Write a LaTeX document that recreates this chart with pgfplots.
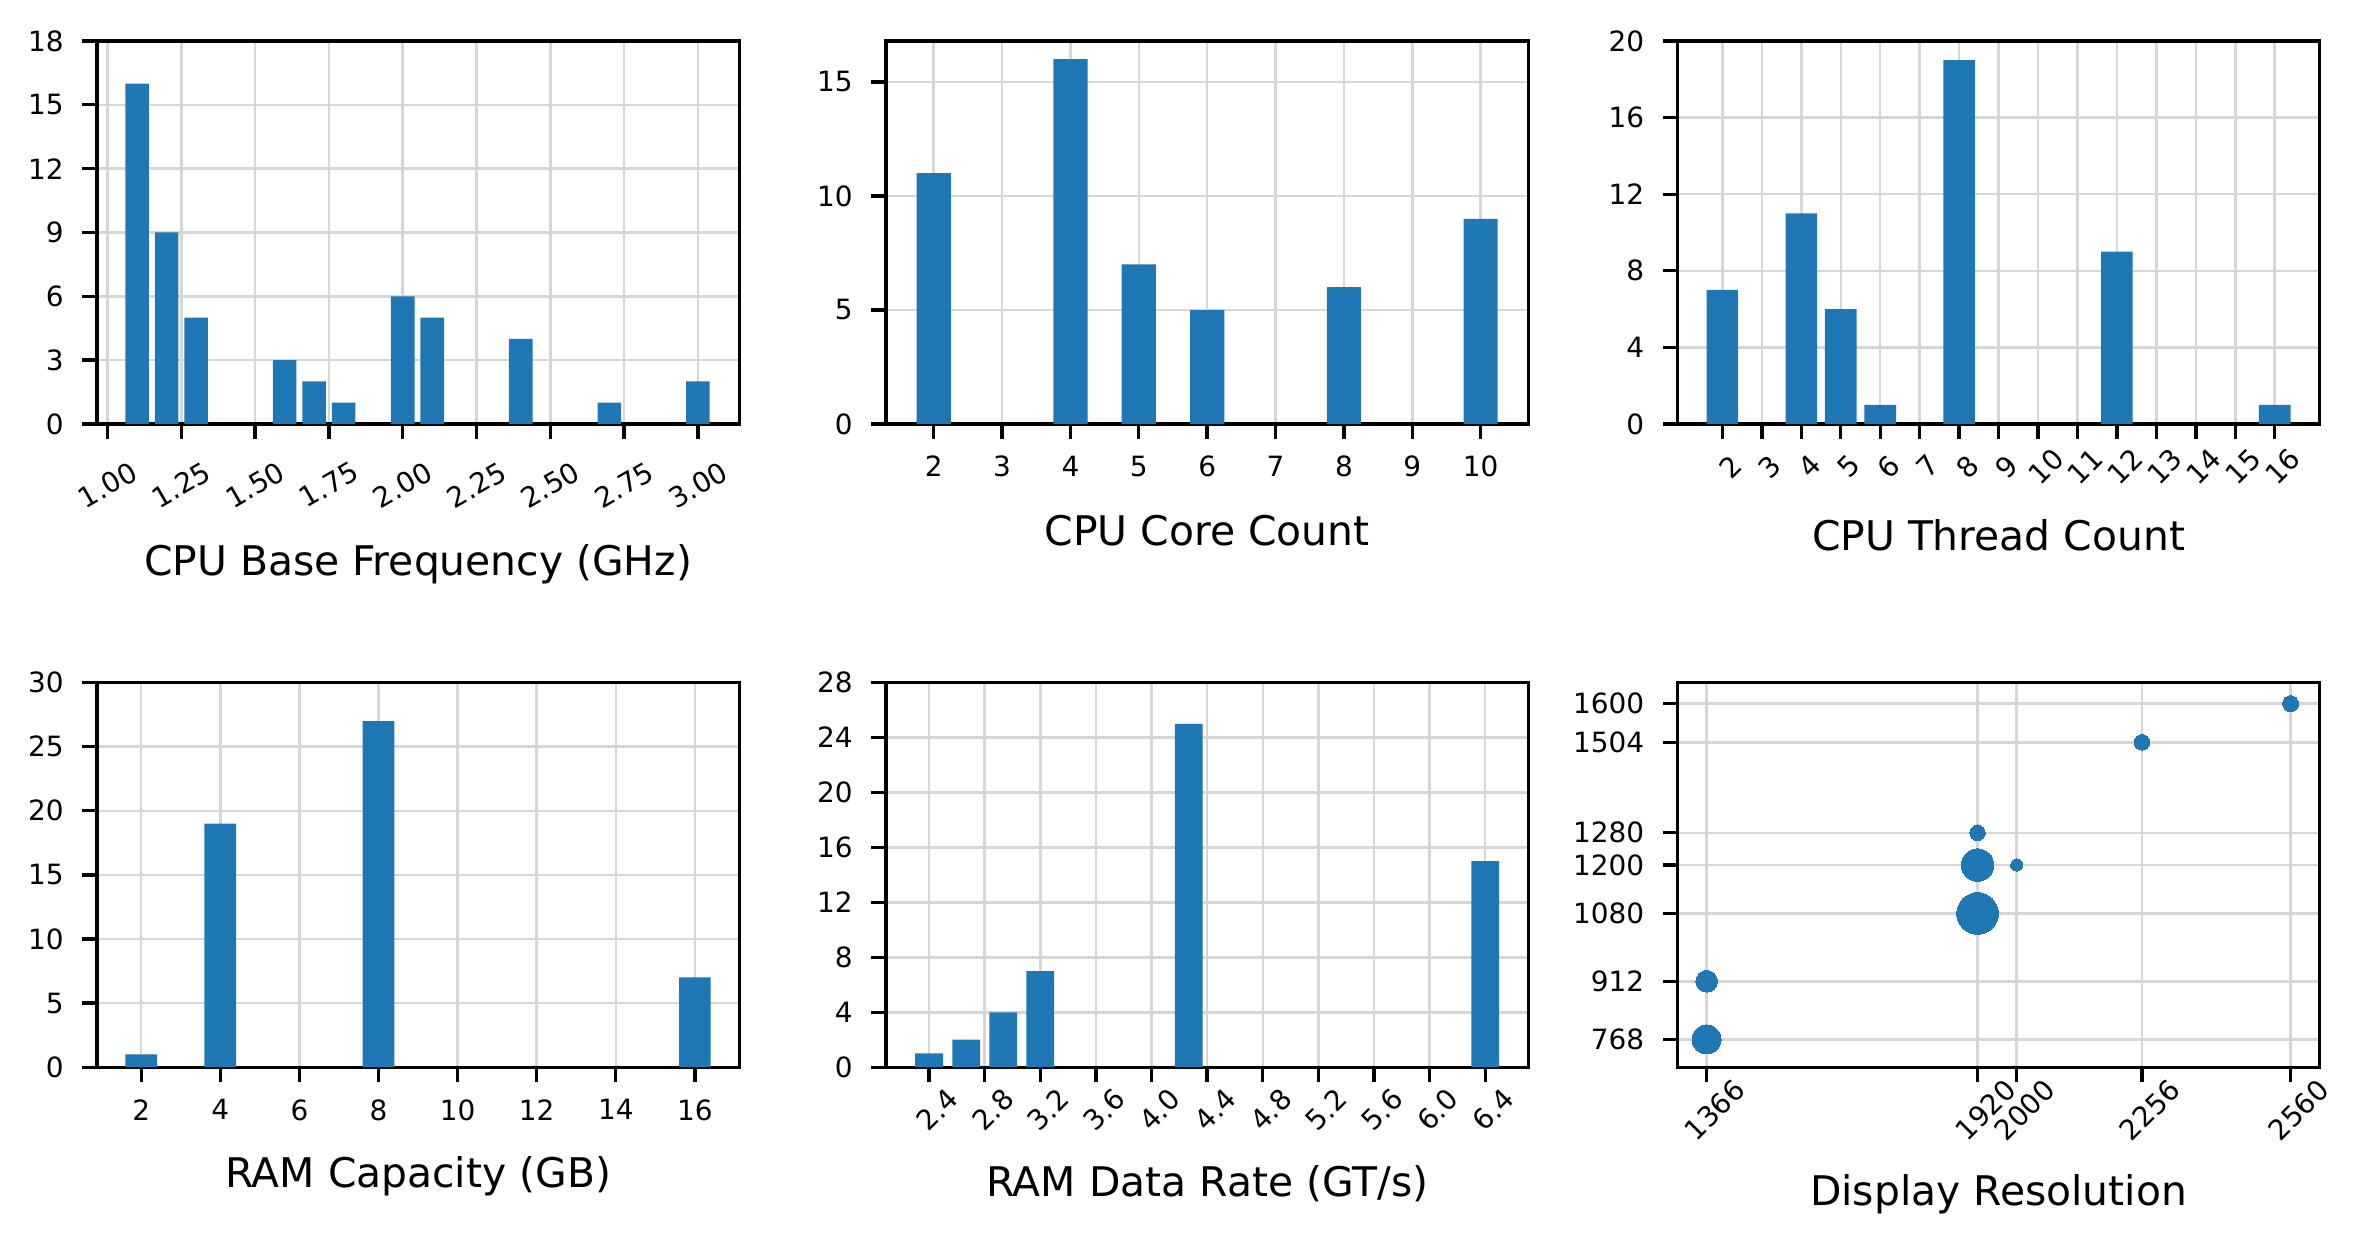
\documentclass[border=0pt]{standalone}
\usepackage{fontspec}
\setmainfont{DejaVu Sans}
\usepackage{graphicx}
\usepackage{pgfplots}
\pgfplotsset{compat=1.18}
\definecolor{mplblue}{RGB}{31,119,180}
\definecolor{gridgray}{RGB}{214,214,214}
\pgfplotsset{
  panel/.style={
    scale only axis,
    enlargelimits=false,
    axis line style={line width=0.8pt, black},
    grid=major,
    major grid style={line width=0.6pt, gridgray},
    tick align=outside,
    major tick length=3.5pt,
    tick style={line width=0.8pt, black},
    xtick pos=lower, ytick pos=left,
    minor tick num=0,
    ticklabel style={font=\fontsize{6.7}{8}\selectfont},
    xticklabel style={anchor=north, inner sep=0pt},
    yticklabel style={anchor=east, inner sep=0pt, xshift=-4.3pt},
    label style={font=\fontsize{9.8}{12}\selectfont},
    /pgf/number format/assume math mode=true,
    /pgf/number format/1000 sep={},
    scaled ticks=false,
  },
  straightx/.style={xticklabel style={yshift=-4pt}},
  rotx/.style={xticklabel style={yshift=-4.8pt, rotate=45}},
  barpanel/.style={panel, ybar, ymin=0},
  bars/.style={fill=mplblue, draw=none},
  dot/.style={only marks, mark=*, mark size=#1, color=mplblue, draw=none, fill=mplblue, mark options={fill=mplblue, draw=none, line width=0pt}},
}
\begin{document}
\begin{tikzpicture}
\useasboundingbox (0,0) rectangle (567.6pt,-298.8pt);
% Panel 1
\begin{axis}[barpanel, at={(23.26pt,-101.76pt)}, anchor=south west,
  width=154.15pt, height=91.92pt,
  xmin=0.964, xmax=3.14, ymax=18, bar width=0.08,
  ytick={0,3,6,9,12,15,18},
  xtick={1.00,1.25,1.50,1.75,2.00,2.25,2.50,2.75,3.00},
  xticklabels={\rotatebox{30}{1.00},\rotatebox{30}{1.25},\rotatebox{30}{1.50},\rotatebox{30}{1.75},\rotatebox{30}{2.00},\rotatebox{30}{2.25},\rotatebox{30}{2.50},\rotatebox{30}{2.75},\rotatebox{30}{3.00}},
  xticklabel style={yshift=-5pt},
  xlabel={CPU Base Frequency (GHz)},
  xlabel style={at={(axis description cs:0.5,0)}, anchor=base, yshift=-36.3pt}]
\addplot[bars] coordinates {(1.1,16) (1.2,9) (1.3,5) (1.6,3) (1.7,2) (1.8,1) (2.0,6) (2.1,5) (2.4,4) (2.7,1) (3.0,2)};
\end{axis}
% Panel 2
\begin{axis}[barpanel, straightx, at={(212.64pt,-101.76pt)}, anchor=south west,
  width=154.15pt, height=91.92pt,
  xmin=1.303, xmax=10.697, ymax=16.8, bar width=0.5,
  ytick={0,5,10,15},
  xtick={2,3,4,5,6,7,8,9,10},
  xlabel={CPU Core Count},
  xlabel style={at={(axis description cs:0.5,0)}, anchor=base, yshift=-29.1pt}]
\addplot[bars] coordinates {(2,11) (4,16) (5,7) (6,5) (8,6) (10,9)};
\end{axis}
% Panel 3
\begin{axis}[barpanel, rotx, at={(402.58pt,-101.76pt)}, anchor=south west,
  width=154.15pt, height=91.92pt,
  xmin=0.86, xmax=17.14, ymax=20, bar width=0.8,
  ytick={0,4,8,12,16,20},
  xtick={2,3,4,5,6,7,8,9,10,11,12,13,14,15,16},
  xlabel={CPU Thread Count},
  xlabel style={at={(axis description cs:0.5,0)}, anchor=base, yshift=-30.4pt}]
\addplot[bars] coordinates {(2,7) (4,11) (5,6) (6,1) (8,19) (12,9) (16,1)};
\end{axis}
% Panel 4
\begin{axis}[barpanel, straightx, at={(23.26pt,-256.13pt)}, anchor=south west,
  width=154.15pt, height=92.3pt,
  xmin=0.88, xmax=17.12, ymax=30, bar width=0.8,
  ytick={0,5,10,15,20,25,30},
  xtick={2,4,6,8,10,12,14,16},
  xlabel={RAM Capacity (GB)},
  xlabel style={at={(axis description cs:0.5,0)}, anchor=base, yshift=-28.8pt}]
\addplot[bars] coordinates {(2,1) (4,19) (8,27) (16,7)};
\end{axis}
% Panel 5
\begin{axis}[barpanel, rotx, at={(212.64pt,-256.13pt)}, anchor=south west,
  width=154.15pt, height=92.3pt,
  xmin=2.09, xmax=6.71, ymax=28, bar width=0.2,
  ytick={0,4,8,12,16,20,24,28},
  xtick={2.4,2.8,3.2,3.6,4.0,4.4,4.8,5.2,5.6,6.0,6.4},
  xticklabels={2.4,2.8,3.2,3.6,4.0,4.4,4.8,5.2,5.6,6.0,6.4},
  xlabel={RAM Data Rate (GT/s)},
  xlabel style={at={(axis description cs:0.5,0)}, anchor=base, yshift=-31pt}]
\addplot[bars] coordinates {(2.4,1) (2.667,2) (2.933,4) (3.2,7) (4.267,25) (6.4,15)};
\end{axis}
% Panel 6
\begin{axis}[panel, rotx, at={(402.58pt,-256.13pt)}, anchor=south west,
  width=154.15pt, height=92.3pt,
  xmin=1306.3, xmax=2619.7, ymin=699, ymax=1652,
  xtick={1366,1920,2000,2256,2560},
  ytick={768,912,1080,1200,1280,1504,1600},
  xlabel={Display Resolution},
  xlabel style={at={(axis description cs:0.5,0)}, anchor=base, yshift=-33.3pt}]
\addplot[dot=3.48pt] coordinates {(1366,768)};
\addplot[dot=2.6pt] coordinates {(1366,912)};
\addplot[dot=5.0pt] coordinates {(1920,1080)};
\addplot[dot=3.9pt] coordinates {(1920,1200)};
\addplot[dot=1.87pt] coordinates {(1920,1280)};
\addplot[dot=1.46pt] coordinates {(2000,1200)};
\addplot[dot=1.87pt] coordinates {(2256,1504)};
\addplot[dot=1.92pt] coordinates {(2560,1600)};
\end{axis}
\end{tikzpicture}
\end{document}
